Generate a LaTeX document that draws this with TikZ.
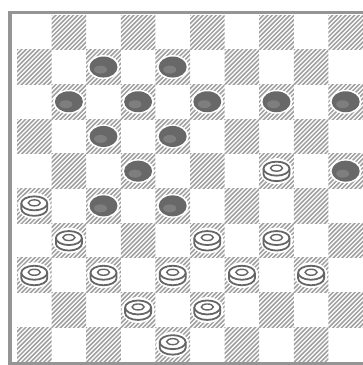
\documentclass[tikz,border=0pt]{standalone}
\begin{document}
\begin{tikzpicture}[x=1pt,y=-1pt]
\definecolor{hatchcol}{HTML}{A0A0A0}
\definecolor{bordercol}{HTML}{959595}
\definecolor{darkpc}{HTML}{686868}
\definecolor{darkhi}{HTML}{7E7E7E}
\definecolor{outlinecol}{HTML}{666666}
\tikzset{
  hatchline/.style={draw=hatchcol, line width=1.5pt},
  boardedge/.style={draw=bordercol, line width=3.5pt},
  halo/.style={fill=white},
  darkbody/.style={fill=darkpc},
  lightbody/.style={fill=white, draw=outlinecol, line width=1.8pt, line join=round},
}
\useasboundingbox (0,0) rectangle (363,365);
\fill[white] (0,0) rectangle (363,365);
% dark squares with hatching
\foreach \r in {0,...,9} {
  \foreach \c in {0,...,9} {
    \pgfmathtruncatemacro\oddsq{mod(\r+\c,2)}
    \ifnum\oddsq=1
      \begin{scope}
        \clip (17+\c*34.6, 15+\r*34.7) rectangle ++(34.6,34.7);
        \foreach \t in {-36,-31.6,...,38} {
          \draw[hatchline] (17+\c*34.6+\t, 15+\r*34.7+36) -- ++(38,-38);
        }
      \end{scope}
    \fi
  }
}
% board edge
\draw[boardedge] (10,11) -- (10,365);
\draw[boardedge] (8,12.5) -- (363,12.5);
\draw[boardedge] (8,363.5) -- (363,363.5);
% dark pieces
\foreach \c/\r in {2/1,4/1,1/2,3/2,5/2,7/2,9/2,2/3,4/3,3/4,9/4,2/5,4/5} {
  \pgfmathsetmacro\cx{17+34.6*(\c+0.5)}
  \pgfmathsetmacro\cy{15+34.7*(\r+0.5)}
  \fill[halo] (\cx,\cy) ellipse (16 and 12);
  \fill[darkbody] (\cx,\cy) ellipse (14 and 10.5);
  \fill[darkhi] (\cx-3,\cy+2.5) ellipse (6.5 and 4);
}
% light pieces
\foreach \c/\r in {7/4,0/5,1/6,5/6,7/6,0/7,2/7,4/7,6/7,8/7,3/8,5/8,4/9} {
  \pgfmathsetmacro\cx{17+34.6*(\c+0.5)}
  \pgfmathsetmacro\cy{15+34.7*(\r+0.5)}
  \fill[halo] (\cx,\cy) ellipse (16.5 and 13);
  \path[lightbody] (\cx-13,\cy-2.5) -- (\cx-13,\cy+3)
     arc[start angle=180, end angle=0, x radius=13, y radius=7]
     -- (\cx+13,\cy-2.5);
  \path[lightbody] (\cx,\cy-2.5) ellipse (13 and 7);
  \draw[outlinecol, line width=1.4pt] (\cx,\cy-3) ellipse (6 and 3);
}
\end{tikzpicture}
\end{document}
